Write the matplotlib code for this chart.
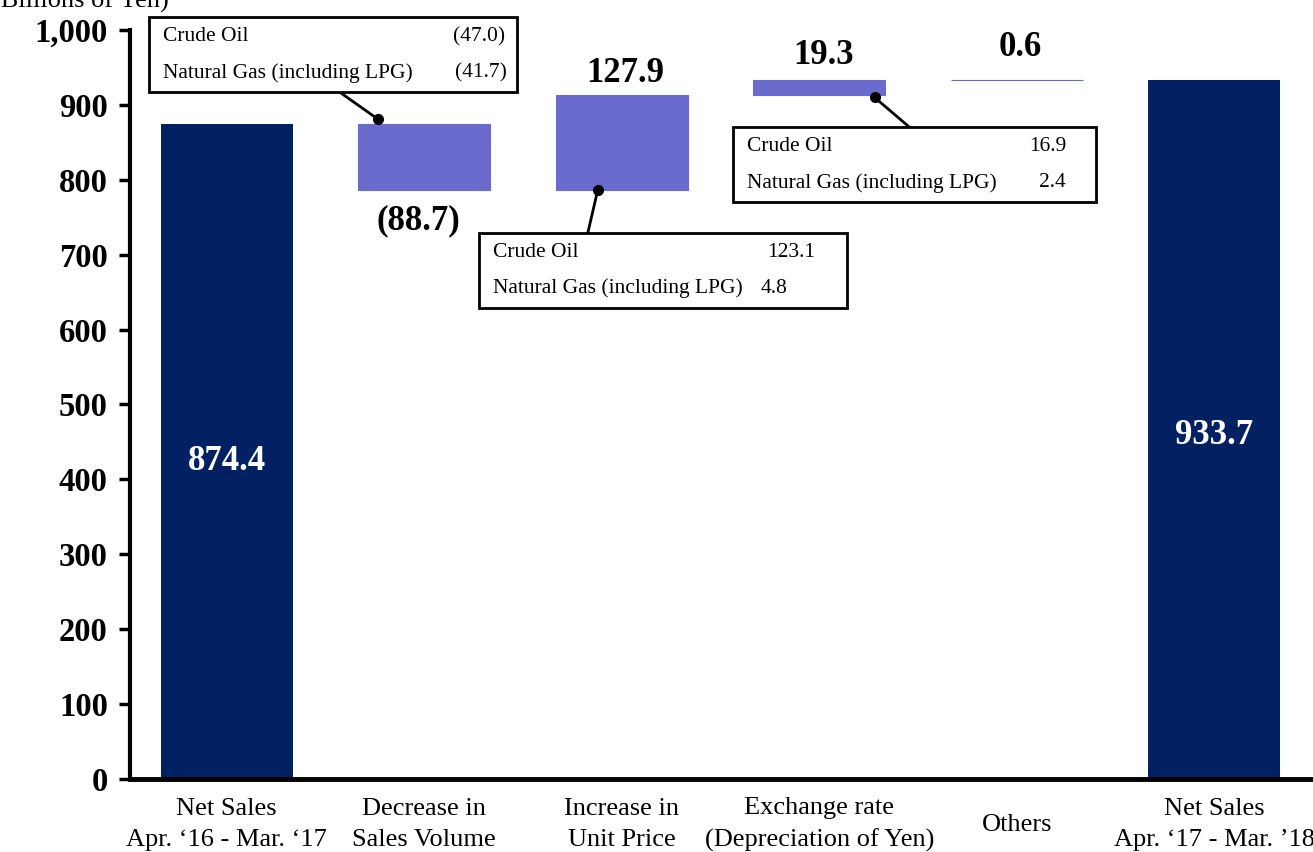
import numpy as np
import matplotlib
matplotlib.use("Agg")
import matplotlib.pyplot as plt
from matplotlib.patches import Rectangle

plt.rcParams['font.family'] = ['Liberation Serif', 'DejaVu Serif']

# data (billions of yen)
categories = ["Net Sales\nApr. \u201816 - Mar. \u201817", "Decrease in\nSales Volume",
              "Increase in\nUnit Price", "Exchange rate\n(Depreciation of Yen)",
              "Others", "Net Sales\nApr. \u201817 - Mar. \u201918"]
start_total = 874.4
changes = [-88.7, 127.9, 19.3, 0.6]
end_total = 933.7
value_labels = ["874.4", "(88.7)", "127.9", "19.3", "0.6", "933.7"]

volume_items = ["Crude Oil", "Natural Gas (including LPG)"]
volume_values = ["(47.0)", "(41.7)"]
price_items = ["Crude Oil", "Natural Gas (including LPG)"]
price_values = ["123.1", "4.8"]
fx_items = ["Crude Oil", "Natural Gas (including LPG)"]
fx_values = ["16.9", "2.4"]

navy = "#022163"
purple = "#6B6BCE"

fig = plt.figure(figsize=(13.13, 8.52), dpi=100)
ax = fig.add_axes([0.099, 0.0857, 0.901, 0.8791])

x = np.arange(len(categories))
w = 0.67

# waterfall bars
ax.bar(x[0], start_total, width=w, color=navy)
level = start_total
bottoms = []
for i, c in enumerate(changes):
    b = level if c >= 0 else level + c
    bottoms.append(b)
    ax.bar(x[i + 1], abs(c), bottom=b, width=w, color=purple,
           edgecolor=purple, linewidth=0.8)
    level += c
ax.bar(x[-1], end_total, width=w, color=navy)

# value labels
ax.text(x[0], start_total / 2 - 13, value_labels[0], ha='center', va='center',
        color='white', fontsize=25, fontweight='bold')
ax.text(x[-1], end_total / 2 - 8, value_labels[-1], ha='center', va='center',
        color='white', fontsize=25, fontweight='bold')
offsets = [-22, 15, 18, 23]  # points
for i, c in enumerate(changes):
    if c < 0:
        yref = bottoms[i]
    else:
        yref = bottoms[i] + c
    ax.annotate(value_labels[i + 1], (x[i + 1] - 0.03 if c < 0 else x[i + 1] + 0.02, yref),
                xytext=(0, offsets[i]), textcoords='offset points',
                ha='center', va='center', fontsize=25, fontweight='bold')


def callout(x0, x1, y0, y1, items, vals, val_x, anchor, line_start):
    ax.add_patch(Rectangle((x0, y0), x1 - x0, y1 - y0, facecolor='white',
                           edgecolor='black', linewidth=2, clip_on=False, zorder=5))
    h = y1 - y0
    for k, (it, v) in enumerate(zip(items, vals)):
        yy = y1 - h * (0.26 + 0.48 * k)
        ax.text(x0 + 0.07, yy, it, ha='left', va='center', fontsize=15.5, zorder=6)
        ax.text(val_x[k], yy, v, ha='right', va='center', fontsize=15.5, zorder=6)
    ax.plot([line_start[0], anchor[0]], [line_start[1], anchor[1]], color='black',
            linewidth=2, clip_on=False, zorder=4)
    ax.plot(anchor[0], anchor[1], 'o', color='black', markersize=7, zorder=7, clip_on=False)


callout(-0.395, 1.468, 917, 1017, volume_items, volume_values, [1.41, 1.42],
        (0.765, 881), (0.572, 917))
callout(1.276, 3.139, 629, 729, price_items, price_values, [2.98, 2.84],
        (1.878, bottoms[1]), (1.828, 729))
callout(2.562, 4.40, 770, 870, fx_items, fx_values, [4.25, 4.25],
        (3.28, 910), (3.458, 870))

ax.set_xlim(-0.49, 5.5)
ax.set_ylim(0, 1000)
ax.set_yticks(np.arange(0, 1001, 100))
ax.set_yticklabels([f"{v:,}" for v in range(0, 1001, 100)], fontsize=23.5, fontweight='bold')
ax.tick_params(axis='y', direction='out', length=8, width=2.5, pad=8)
ax.set_xticks(x)
ax.set_xticklabels(categories, fontsize=19, linespacing=1.55)
ax.tick_params(axis='x', length=0, pad=33)
for lab in ax.get_xticklabels():
    lab.set_verticalalignment('center')

for s in ['top', 'right']:
    ax.spines[s].set_visible(False)
ax.spines['left'].set_linewidth(3)
ax.spines['bottom'].set_linewidth(3.5)

fig.text(-0.006, 0.999, "(Billions of Yen)", ha='left', va='center', fontsize=19)

fig.savefig("out.png", dpi=100)
